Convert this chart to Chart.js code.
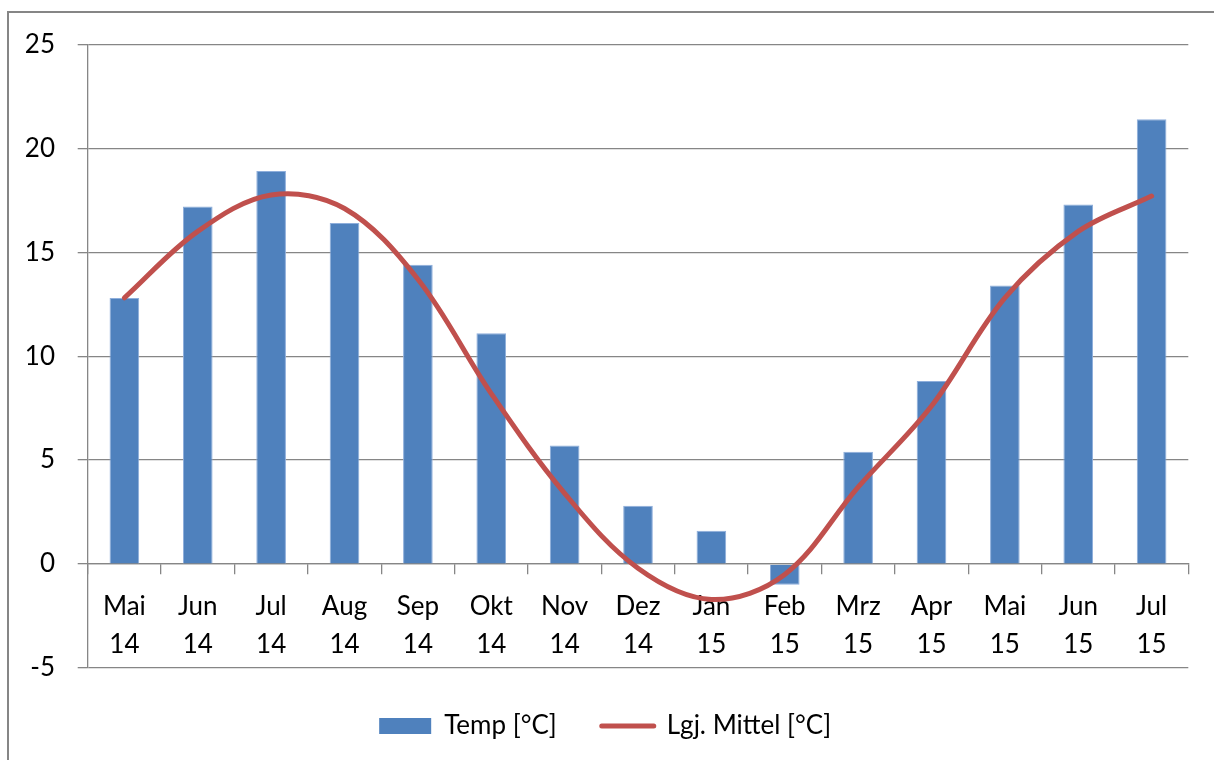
<!DOCTYPE html>
<html lang="de">
<head>
<meta charset="utf-8">
<title>Temperatur Mai 14 – Jul 15</title>
<script src="https://cdn.jsdelivr.net/npm/chart.js@4"></script>
<style>
  html, body { margin: 0; padding: 0; background: #ffffff; }
  #wrap { width: 1214px; height: 760px; }
</style>
</head>
<body>
<div id="wrap"><canvas id="chart" width="1214" height="760"></canvas></div>
<script>
// Monatsbeschriftung (zweizeilig: Monat / Jahr)
const months = ['Mai', 'Jun', 'Jul', 'Aug', 'Sep', 'Okt', 'Nov', 'Dez', 'Jan', 'Feb', 'Mrz', 'Apr', 'Mai', 'Jun', 'Jul'];
const years  = ['14', '14', '14', '14', '14', '14', '14', '14', '15', '15', '15', '15', '15', '15', '15'];

// Monatsmittel der Temperatur [°C]
const tempValues = [12.8, 17.2, 18.9, 16.4, 14.4, 11.1, 5.7, 2.8, 1.6, -1.0, 5.4, 8.8, 13.4, 17.3, 21.4];

// Langjähriges Mittel [°C]
const meanValues = [12.8, 16.0, 17.75, 17.1, 13.7, 8.2, 3.4, -0.2, -1.7, -0.5, 3.7, 7.6, 12.8, 16.0, 17.7];

// y-Achse
const yMin = -5;
const yMax = 25;
const yStep = 5;

const seriesNames = ['Temp [°C]', 'Lgj. Mittel [°C]'];

const labels = months.map((m, i) => [m, years[i]]);

const FONT = 'Lato, "Open Sans", "Liberation Sans", sans-serif';
const GRID = '#868686';
const BAR_BLUE = '#4F81BD';
const LINE_RED = '#C0504D';

// grauer Rahmen um das Diagramm
const framePlugin = {
  id: 'frame',
  beforeDraw(chart) {
    const ctx = chart.ctx;
    ctx.save();
    ctx.fillStyle = '#ffffff';
    ctx.fillRect(0, 0, chart.width, chart.height);
    ctx.strokeStyle = GRID;
    ctx.lineWidth = 2;
    ctx.strokeRect(8, 12, chart.width + 20, chart.height + 20);
    ctx.restore();
  }
};

new Chart(document.getElementById('chart'), {
  data: {
    labels: labels,
    datasets: [
      {
        type: 'bar',
        label: seriesNames[0],
        data: tempValues,
        backgroundColor: BAR_BLUE,
        borderColor: '#8eaedb',
        borderWidth: 1,
        categoryPercentage: 1.0,
        barPercentage: 0.404,
        order: 1
      },
      {
        type: 'line',
        label: seriesNames[1],
        data: meanValues,
        borderColor: LINE_RED,
        backgroundColor: LINE_RED,
        borderWidth: 5,
        borderCapStyle: 'round',
        tension: 0.35,
        pointRadius: 0,
        pointHoverRadius: 0,
        fill: false,
        order: 0
      }
    ]
  },
  options: {
    responsive: false,
    animation: false,
    devicePixelRatio: 1,
    layout: {
      padding: { left: 22, right: 25.7, top: 44.3, bottom: 11 }
    },
    scales: {
      x: {
        type: 'category',
        position: { y: 0 },
        offset: true,
        grid: {
          offset: true,
          drawOnChartArea: false,
          drawTicks: true,
          tickLength: 10,
          color: GRID,
          lineWidth: 1.3
        },
        border: { display: true, color: GRID, width: 1.3 },
        ticks: {
          color: '#000000',
          padding: 14,
          maxRotation: 0,
          autoSkip: false,
          font: { family: FONT, size: 26, lineHeight: 1.44 }
        }
      },
      y: {
        min: yMin,
        max: yMax,
        afterFit(scale) { scale.width = 65.7; },
        grid: {
          color: GRID,
          lineWidth: 1.3,
          drawTicks: true,
          tickLength: 10
        },
        border: { display: true, color: GRID, width: 1.3 },
        ticks: {
          stepSize: yStep,
          color: '#000000',
          padding: 22.7,
          font: { family: FONT, size: 26 }
        }
      }
    },
    plugins: {
      tooltip: { enabled: false },
      legend: {
        position: 'bottom',
        align: 'center',
        labels: {
          usePointStyle: true,
          pointStyleWidth: 52,
          boxHeight: 16,
          padding: 45,
          color: '#000000',
          font: { family: FONT, size: 26 },
          generateLabels(chart) {
            return chart.data.datasets.map((ds, i) => {
              const isLine = ds.type === 'line';
              return {
                text: ds.label,
                datasetIndex: i,
                hidden: false,
                fillStyle: isLine ? ds.borderColor : ds.backgroundColor,
                strokeStyle: isLine ? ds.borderColor : ds.backgroundColor,
                lineWidth: isLine ? 5 : 0,
                lineCap: 'round',
                pointStyle: isLine ? 'line' : 'rect',
                fontColor: '#000000'
              };
            });
          }
        }
      }
    }
  },
  plugins: [framePlugin]
});
</script>
</body>
</html>
